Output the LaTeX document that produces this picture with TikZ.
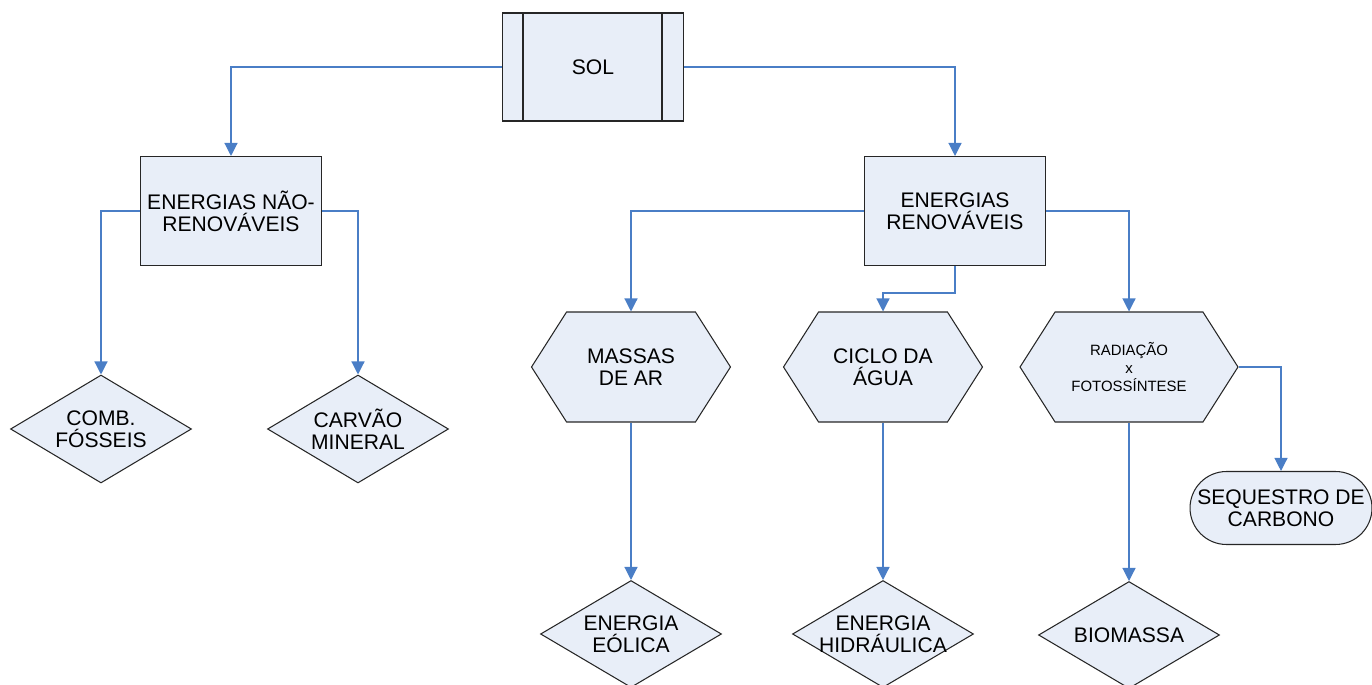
\documentclass[tikz,border=0pt]{standalone}
\usepackage{fontspec}
\setmainfont{Liberation Sans}
\usetikzlibrary{shapes.geometric,shapes.symbols,shapes.misc,arrows.meta}
\definecolor{boxfill}{HTML}{E8EEF8}
\definecolor{linkblue}{HTML}{4A7EC6}
\begin{document}
\begin{tikzpicture}[x=0.02cm,y=-0.02cm,
  every node/.style={font=\fontsize{12}{12.5}\selectfont, align=center, inner sep=0pt},
  base/.style={draw=black!85, fill=boxfill, line width=0.6pt},
  procbox/.style={base, rectangle, minimum width=3.62cm, minimum height=2.18cm},
  hexbox/.style={base, signal, signal to=west and east, signal pointer angle=115, minimum width=3.98cm, minimum height=2.2cm},
  decision/.style={base, diamond, minimum width=3.62cm, minimum height=2.14cm},
  endbox/.style={base, rounded rectangle, minimum width=3.64cm, minimum height=1.46cm},
  link/.style={draw=linkblue, line width=0.7pt, -{Triangle[width=0.26cm,length=0.26cm]}}]
  \useasboundingbox (0,0) rectangle (1372,685);
  \node[procbox, minimum height=2.16cm] (sol) at (593,67) {SOL};
  \draw[draw=black!85, line width=0.6pt] ([xshift=0.42cm]sol.north west) -- ([xshift=0.42cm]sol.south west);
  \draw[draw=black!85, line width=0.6pt] ([xshift=-0.44cm]sol.north east) -- ([xshift=-0.44cm]sol.south east);
  \node[procbox] (nonren) at (231,211) {ENERGIAS NÃO-\\RENOVÁVEIS};
  \node[procbox] (ren) at (955,211) {ENERGIAS\\RENOVÁVEIS};
  \node[decision, minimum height=2.16cm, label={center:COMB.\\FÓSSEIS}] (comb) at (101,429) {};
  \node[decision, minimum height=2.16cm, label={center:CARVÃO\\MINERAL}] (carvao) at (358,429) {};
  \node[hexbox] (massas) at (631,367) {MASSAS\\DE AR};
  \node[hexbox] (ciclo) at (883,367) {CICLO DA\\ÁGUA};
  \node[hexbox, minimum width=4.36cm, font=\fontsize{8.5}{10.5}\selectfont] (radiacao) at (1129,367) {RADIAÇÃO\\x\\FOTOSSÍNTESE};
  \node[decision, label={center:ENERGIA\\EÓLICA}] (eolica) at (631,634) {};
  \node[decision, label={center:ENERGIA\\HIDRÁULICA}] (hidra) at (883,634) {};
  \node[decision, label={center:BIOMASSA}] (bio) at (1129,635) {};
  \node[endbox] (seq) at (1281,508) {SEQUESTRO DE\\CARBONO};
  \draw[link] (sol.west) -| (nonren.north);
  \draw[link] (sol.east) -| (ren.north);
  \draw[link] (nonren.west) -| (comb.north);
  \draw[link] (nonren.east) -| (carvao.north);
  \draw[link] (ren.west) -| (massas.north);
  \draw[link] (ren.east) -| (radiacao.north);
  \draw[link] (ren.south) -- ++(0,27) -| (ciclo.north);
  \draw[link] (massas.south) -- (eolica.north);
  \draw[link] (ciclo.south) -- (hidra.north);
  \draw[link] (radiacao.south) -- (bio.north);
  \draw[link] (radiacao.east) -| (seq.north);
\end{tikzpicture}
\end{document}
